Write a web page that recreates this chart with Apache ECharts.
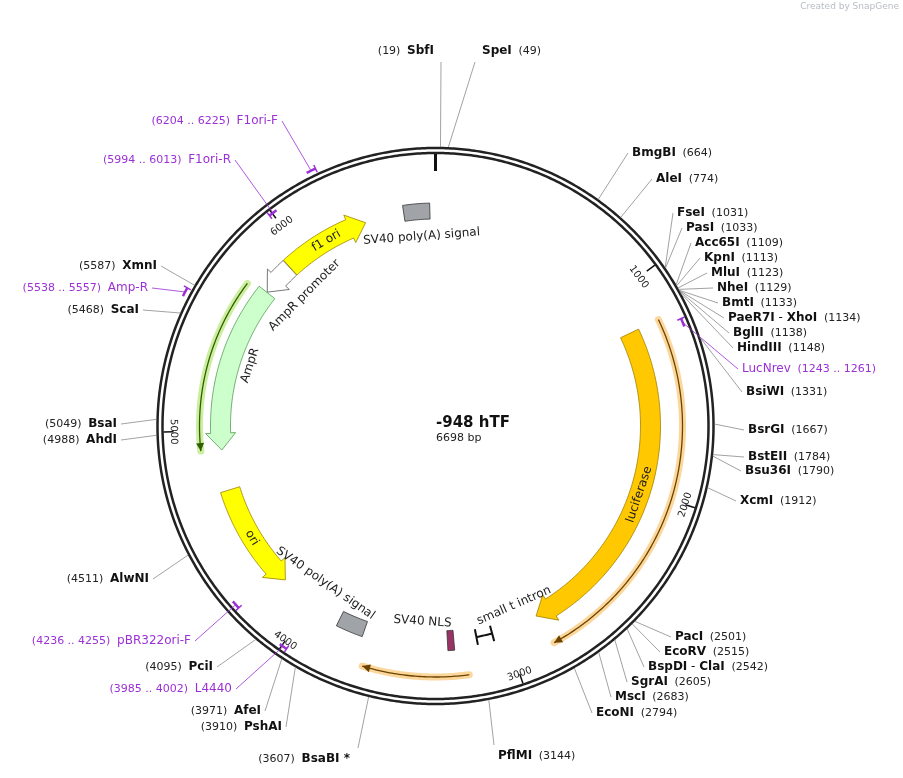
<!DOCTYPE html>
<html>
<head>
<meta charset="utf-8">
<script src="https://cdn.jsdelivr.net/npm/echarts@6/dist/echarts.min.js"></script>
<style>html,body{margin:0;padding:0;background:#fff}#chart{width:903px;height:778px}</style>
</head>
<body>
<div id="chart"></div>
<script>
// plasmid data
const plasmidName = '-948 hTF';
const plasmidLen = 6698;
const tickPos = [1000, 2000, 3000, 4000, 5000, 6000];

// restriction sites
const enzNames = ['SbfI','SpeI','BmgBI','AleI','FseI','PasI','Acc65I','KpnI','MluI','NheI','BmtI','PaeR7I - XhoI','BglII','HindIII','BsiWI','BsrGI','BstEII','Bsu36I','XcmI','PacI','EcoRV','BspDI - ClaI','SgrAI','MscI','EcoNI','PflMI','BsaBI *','PshAI','AfeI','PciI','AlwNI','AhdI','BsaI','ScaI','XmnI'];
const enzPos = [19,49,664,774,1031,1033,1109,1113,1123,1129,1133,1134,1138,1148,1331,1667,1784,1790,1912,2501,2515,2542,2605,2683,2794,3144,3607,3910,3971,4095,4511,4988,5049,5468,5587];
// label layout (text anchor, side)
const enzLabelXY = [[434,51],[482,51],[632,153],[656,179],[677,213],[686,228],[695,243],[704,258],[711,273],[717,288],[722,303],[728,318],[733,333],[737,348],[746,392],[748,430],[748,457],[745,471],[740,501],[675,637],[664,652],[648,667],[631,682],[615,697],[596,713],[498,756],[350,759],[282,727],[261,711],[213,667],[149,579],[117,440],[117,424],[139,310],[157,266]];
const enzSide = ['tl','tr','r','r','r','r','r','r','r','r','r','r','r','r','r','r','r','r','r','r','r','r','r','r','r','br','bl','l','l','l','l','l','l','l','l'];

// primers
const primerNames = ['F1ori-F','F1ori-R','Amp-R','LucNrev','pBR322ori-F','L4440'];
const primerStart = [6204,5994,5538,1243,4236,3985];
const primerEnd = [6225,6013,5557,1261,4255,4002];
const primerStrand = [1,-1,1,-1,-1,-1];
const primerLabelXY = [[278,121],[231,160],[148,288],[742,369],[191,641],[232,689]];
const primerSide = ['l','l','l','r','l','l'];

// directional features (arrows)
const featNames = ['luciferase','ori','AmpR','AmpR promoter','f1 ori'];
const featStart = [1200,4703,5738,5905,5907];
const featEnd = [2830,4173,4904,5740,6345];
const featColor = ['#ffc800','#ffff00','#ccffcc','#ffffff','#ffff00'];
const featLabelR = [215,215,195,185,215];
const featLabelPos = [2020,4440,5360,5860,6130];

// non-directional features (boxes)
const boxNames = ['SV40 poly(A) signal','SV40 poly(A) signal','SV40 NLS'];
const boxStart = [6540,3706,3258];
const boxEnd = [6670,3840,3290];
const boxColor = ['#a0a4a8','#a0a4a8','#993366'];
const boxLabelPos = [6620,4000,3420];
const boxLabelR = [190,192,196];
// intron marker
const intronName = 'small t intron';
const intronStart = 3065, intronEnd = 3145;

// highlighted ORF outlines
const orfStart = [1200,3205,5715];
const orfEnd = [2815,3665,4910];
const orfR = [247,251,236];
const orfGlow = ['#fcd79c','#fcd79c','#cdee9f'];
const orfLine = ['#6b4300','#6b4300','#2f5f00'];

const FONT = 'DejaVu Sans';
const PURPLE = '#9b30d6';
const BPD = plasmidLen / 360;

function renderItem(params, api) {
  const P = (r, p) => api.coord([r, p]);
  const kids = [];
  const arc = (r, a, b) => {
    const n = Math.max(2, Math.ceil(Math.abs(b - a) / 10));
    const pts = [];
    for (let i = 0; i <= n; i++) pts.push(P(r, a + (b - a) * i / n));
    return pts;
  };
  const bpOf = (px, r) => px / r * 180 / Math.PI * BPD;
  const tanRot = (p) => {
    let a = (p / plasmidLen) * 360;
    while (a > 90) a -= 180;
    return -a * Math.PI / 180;
  };

  // backbone
  kids.push({type: 'polyline', shape: {points: arc(278, 0, plasmidLen)}, style: {stroke: '#222', lineWidth: 2.5, fill: null}});
  kids.push({type: 'polyline', shape: {points: arc(273, 0, plasmidLen)}, style: {stroke: '#222', lineWidth: 2.5, fill: null}});
  kids.push({type: 'line', shape: {x1: P(272, 0)[0], y1: P(272, 0)[1], x2: P(255, 0)[0], y2: P(255, 0)[1]}, style: {stroke: '#111', lineWidth: 3}});
  tickPos.forEach(t => {
    const a = P(272, t), b = P(262, t), c = P(257, t);
    kids.push({type: 'line', shape: {x1: a[0], y1: a[1], x2: b[0], y2: b[1]}, style: {stroke: '#111', lineWidth: 1.5}});
    kids.push({type: 'text', x: c[0], y: c[1], rotation: tanRot(t),
      style: {text: String(t), font: '10px ' + FONT, fill: '#222', align: 'center', verticalAlign: 'top'}});
  });

  // ORF outlines
  orfStart.forEach((s, i) => {
    const e = orfEnd[i], r = orfR[i];
    const dir = e > s ? 1 : -1;
    const pts = arc(r, s, e);
    kids.push({type: 'polyline', shape: {points: pts}, style: {stroke: orfGlow[i], lineWidth: 7, fill: null, lineCap: 'round'}});
    kids.push({type: 'polyline', shape: {points: pts}, style: {stroke: orfLine[i], lineWidth: 1.3, fill: null}});
    const h = bpOf(8, r) * dir;
    kids.push({type: 'polygon', shape: {points: [P(r + 4, e - h), P(r, e), P(r - 4, e - h)]}, style: {fill: orfLine[i]}});
  });

  // arrow features
  featNames.forEach((name, i) => {
    const s = featStart[i], e = featEnd[i], rc = 215, w = 20;
    const dir = e > s ? 1 : -1;
    const h = bpOf(17, rc) * dir;
    const pts = arc(rc + w / 2, s, e - h)
      .concat([P(rc + w / 2 + 5, e - h), P(rc, e), P(rc - w / 2 - 5, e - h)])
      .concat(arc(rc - w / 2, e - h, s));
    const dark = featColor[i] === '#ccffcc' ? '#559955' : (featColor[i] === '#ffffff' ? '#555' : '#a08000');
    kids.push({type: 'polygon', shape: {points: pts}, style: {fill: featColor[i], stroke: dark, lineWidth: 0.8}});
    const lp = P(featLabelR[i], featLabelPos[i]);
    kids.push({type: 'text', x: lp[0], y: lp[1], rotation: tanRot(featLabelPos[i]),
      style: {text: name, font: '12px ' + FONT, fill: '#222', align: 'center', verticalAlign: 'middle'}});
  });

  // boxes
  boxNames.forEach((name, i) => {
    const hw = i === 2 ? 10 : 8;
    const pts = arc(215 + hw, boxStart[i], boxEnd[i]).concat(arc(215 - hw, boxEnd[i], boxStart[i]));
    kids.push({type: 'polygon', shape: {points: pts}, style: {fill: boxColor[i], stroke: '#333', lineWidth: 0.8}});
    const lp = P(boxLabelR[i], boxLabelPos[i]);
    kids.push({type: 'text', x: lp[0], y: lp[1], rotation: tanRot(boxLabelPos[i]),
      style: {text: name, font: '12px ' + FONT, fill: '#222', align: 'center', verticalAlign: 'middle'}});
  });

  // intron I-beam
  kids.push({type: 'polyline', shape: {points: arc(215, intronStart, intronEnd)}, style: {stroke: '#111', lineWidth: 2, fill: null}});
  [intronStart, intronEnd].forEach(p => {
    const a = P(223, p), b = P(207, p);
    kids.push({type: 'line', shape: {x1: a[0], y1: a[1], x2: b[0], y2: b[1]}, style: {stroke: '#111', lineWidth: 2}});
  });
  {
    const lp = P(196, 2910);
    kids.push({type: 'text', x: lp[0], y: lp[1], rotation: tanRot(2910),
      style: {text: intronName, font: '12px ' + FONT, fill: '#222', align: 'center', verticalAlign: 'middle'}});
  }

  // label helper
  const rich = {
    n: {font: 'bold 12px ' + FONT, fill: '#111'},
    s: {font: '12px ' + FONT, fill: '#111'},
    p: {font: '11px ' + FONT, fill: '#222'},
    q: {font: '12px ' + FONT, fill: PURPLE},
    r: {font: '11px ' + FONT, fill: PURPLE}
  };
  const place = (xy, side, text, from, color) => {
    let lx = xy[0], ly = xy[1], align = 'left';
    if (side === 'r') { lx -= 4; }
    else if (side === 'l') { lx += 4; align = 'right'; }
    else if (side === 'tl') { lx += 7; ly += 11; align = 'right'; }
    else if (side === 'tr') { lx -= 7; ly += 11; }
    else if (side === 'bl') { lx += 8; ly -= 11; align = 'right'; }
    else if (side === 'br') { lx -= 4; ly -= 11; }
    kids.push({type: 'line', shape: {x1: from[0], y1: from[1], x2: lx, y2: ly}, style: {stroke: color, lineWidth: 0.8}});
    kids.push({type: 'text', x: xy[0], y: xy[1], style: {text: text, rich: rich, align: align, verticalAlign: 'middle'}});
  };

  enzNames.forEach((name, i) => {
    const nm = name.split(' - ').map(t => '{n|' + t + '}').join('{s| - }');
    const left = enzSide[i] === 'l' || enzSide[i] === 'tl' || enzSide[i] === 'bl';
    const txt = left ? '{p|(' + enzPos[i] + ')}  ' + nm : nm + '  {p|(' + enzPos[i] + ')}';
    place(enzLabelXY[i], enzSide[i], txt, P(279, enzPos[i]), '#8a8a8a');
  });

  primerNames.forEach((name, i) => {
    const r = primerStrand[i] > 0 ? 284 : 268;
    const s = primerStart[i], e = primerEnd[i];
    const pts = arc(r, s - 8, e + 8);
    kids.push({type: 'polyline', shape: {points: pts}, style: {stroke: PURPLE, lineWidth: 2.5, fill: null}});
    const tip = primerStrand[i] > 0 ? e + 8 : s - 8;
    const a = P(r + 4, tip), b = P(r - 4, tip);
    kids.push({type: 'line', shape: {x1: a[0], y1: a[1], x2: b[0], y2: b[1]}, style: {stroke: PURPLE, lineWidth: 1.5}});
    const left = primerSide[i] === 'l';
    const rng = '(' + s + ' .. ' + e + ')';
    const txt = left ? '{r|' + rng + '}  {q|' + name + '}' : '{q|' + name + '}  {r|' + rng + '}';
    place(primerLabelXY[i], primerSide[i], txt, P(r, (s + e) / 2), PURPLE);
  });

  return {type: 'group', children: kids};
}

const chart = echarts.init(document.getElementById('chart'));
chart.setOption({
  backgroundColor: '#fff',
  animation: false,
  polar: {center: [435.5, 426], radius: 300},
  angleAxis: {type: 'value', min: 0, max: plasmidLen, startAngle: 90, clockwise: true, show: false},
  radiusAxis: {type: 'value', min: 0, max: 300, show: false},
  graphic: [
    {type: 'text', left: 436, top: 416, style: {text: plasmidName, font: 'bold 15px ' + FONT, fill: '#111', align: 'center', verticalAlign: 'middle'}},
    {type: 'text', left: 436, top: 433, style: {text: plasmidLen + ' bp', font: '11px ' + FONT, fill: '#222', align: 'center', verticalAlign: 'middle'}},
    {type: 'text', right: 4, top: 2, style: {text: 'Created by SnapGene', font: '9px ' + FONT, fill: '#b8bcc4'}}
  ],
  series: [{type: 'custom', coordinateSystem: 'polar', data: [[0, 0]], renderItem: renderItem, silent: true}]
});
</script>
</body>
</html>
